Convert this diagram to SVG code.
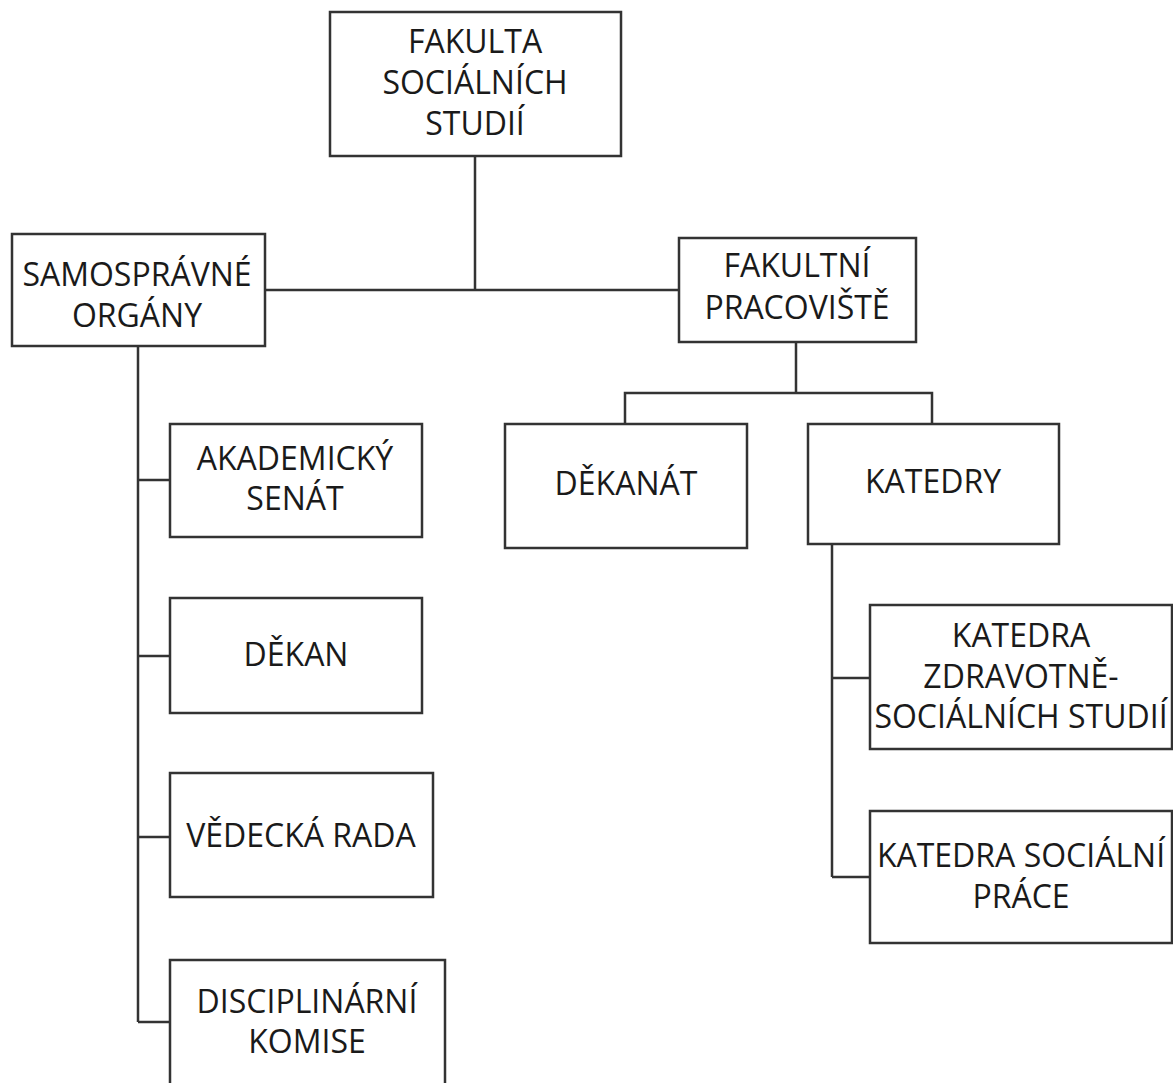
<svg xmlns="http://www.w3.org/2000/svg" width="1173" height="1083" viewBox="0 0 1173 1083">
<style>
.box{fill:#fff;stroke:#333;stroke-width:2.5}
.lbl{font-family:"Open Sans","Liberation Sans",sans-serif;font-size:32px;fill:#1a1a1a;text-anchor:middle}
.conn{fill:none;stroke:#333;stroke-width:2.5}
</style>
<rect width="1173" height="1083" fill="#fff"/>
<g id="connectors" class="conn">
<path d="M475,156 V290 M265,290 H679"/>
<path d="M138,346 V1022 M138,480 H170 M138,656 H170 M138,837 H170 M138,1022 H170"/>
<path d="M796,342 V393 M625,424 V393 H932 V424"/>
<path d="M832,544 V877 M832,678 H870 M832,877 H870"/>
</g>
<g id="fss"><rect class="box" x="330" y="12" width="291" height="144"/>
<text class="lbl" x="475" y="53">FAKULTA</text><text class="lbl" x="475" y="94">SOCIÁLNÍCH</text><text class="lbl" x="475" y="135">STUDIÍ</text></g>
<g id="samospravne"><rect class="box" x="12" y="234" width="253" height="112"/>
<text class="lbl" x="137" y="286">SAMOSPRÁVNÉ</text><text class="lbl" x="137" y="327">ORGÁNY</text></g>
<g id="pracoviste"><rect class="box" x="679" y="238" width="237" height="104"/>
<text class="lbl" x="797" y="277">FAKULTNÍ</text><text class="lbl" x="797" y="319">PRACOVIŠTĚ</text></g>
<g id="senat"><rect class="box" x="170" y="424" width="252" height="113"/>
<text class="lbl" x="295" y="470">AKADEMICKÝ</text><text class="lbl" x="295" y="510">SENÁT</text></g>
<g id="dekan"><rect class="box" x="170" y="598" width="252" height="115"/>
<text class="lbl" x="296" y="666">DĚKAN</text></g>
<g id="rada"><rect class="box" x="170" y="773" width="263" height="124"/>
<text class="lbl" x="301" y="847">VĚDECKÁ RADA</text></g>
<g id="komise"><rect class="box" x="170" y="960" width="275" height="140"/>
<text class="lbl" x="307" y="1013">DISCIPLINÁRNÍ</text><text class="lbl" x="307" y="1053">KOMISE</text></g>
<g id="dekanat"><rect class="box" x="505" y="424" width="242" height="124"/>
<text class="lbl" x="626" y="495">DĚKANÁT</text></g>
<g id="katedry"><rect class="box" x="808" y="424" width="251" height="120"/>
<text class="lbl" x="933" y="493">KATEDRY</text></g>
<g id="kzss"><rect class="box" x="870" y="605" width="302" height="144"/>
<text class="lbl" x="1021" y="647">KATEDRA</text><text class="lbl" x="1021" y="688">ZDRAVOTNĚ-</text><text class="lbl" x="1021" y="728">SOCIÁLNÍCH STUDIÍ</text></g>
<g id="ksp"><rect class="box" x="870" y="811" width="302" height="132"/>
<text class="lbl" x="1021" y="867">KATEDRA SOCIÁLNÍ</text><text class="lbl" x="1021" y="908">PRÁCE</text></g>
</svg>
